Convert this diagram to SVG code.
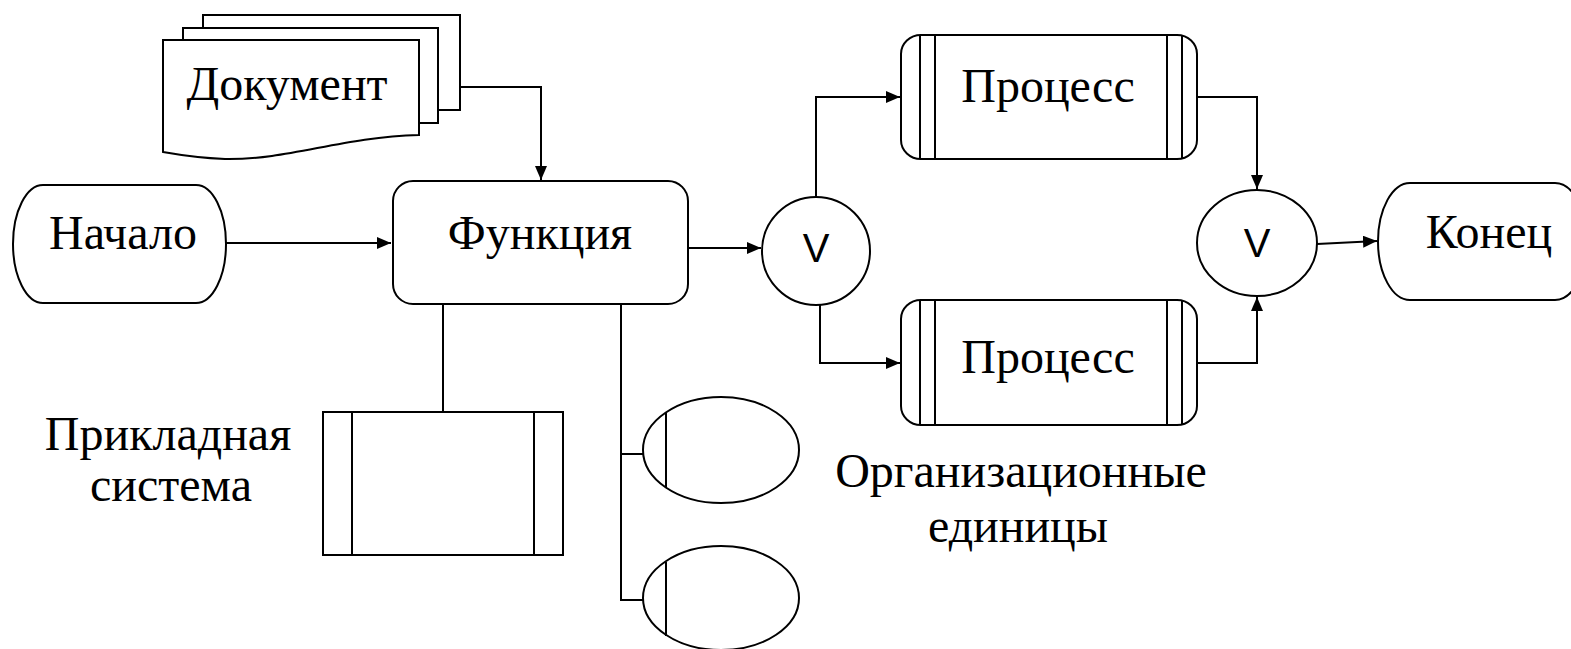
<svg xmlns="http://www.w3.org/2000/svg" width="1571" height="649" viewBox="0 0 1571 649">
<style>
.s{fill:#fff;stroke:#000;stroke-width:2}
.l{fill:none;stroke:#000;stroke-width:2}
</style>
<defs>
<marker id="a" markerUnits="userSpaceOnUse" markerWidth="14" markerHeight="12" refX="14" refY="6" orient="auto">
<path d="M0,0 L14,6 L0,12 Z" fill="#000"/>
</marker>
</defs>
<rect width="1571" height="649" fill="#fff"/>
<g id="connectors" class="l">
<path d="M226,243 H391" marker-end="url(#a)"/>
<path d="M460,87 H541 V180" marker-end="url(#a)"/>
<path d="M688,248 H761" marker-end="url(#a)"/>
<path d="M816,197 V97 H900" marker-end="url(#a)"/>
<path d="M820,305 V363 H900" marker-end="url(#a)"/>
<path d="M1197,97 H1257 V189" marker-end="url(#a)"/>
<path d="M1197,363 H1257 V297" marker-end="url(#a)"/>
<path d="M1317,244 L1377,241" marker-end="url(#a)"/>
<path d="M443,304 V412"/>
<path d="M621,304 V600 H643 M621,454 H643"/>
</g>
<g id="document">
<path class="s" d="M203,28 V15 H460 V110 H438"/>
<path class="s" d="M183,40 V28 H438 V123 H419"/>
<path class="s" d="M163,40 H419 V135 C340,137 290,160 225,159 C200,158 180,155 163,152 Z"/>
<text x="287" y="100" text-anchor="middle" style="font-family:'Liberation Serif';font-size:48px">Документ</text>
</g>
<g id="start">
<path class="s" d="M43,185 H196 A30,59 0 0 1 196,303 H43 A30,59 0 0 1 43,185 Z"/>
<text x="123" y="249" text-anchor="middle" style="font-family:'Liberation Serif';font-size:48px">Начало</text>
</g>
<g id="function">
<rect class="s" x="393" y="181" width="295" height="123" rx="20" ry="20"/>
<text x="540" y="249" text-anchor="middle" style="font-family:'Liberation Serif';font-size:48px">Функция</text>
</g>
<g id="xor1">
<circle class="s" cx="816" cy="251" r="54"/>
<text x="816" y="262" text-anchor="middle" style="font-family:'Liberation Sans';font-size:40px">V</text>
</g>
<g id="process1">
<rect class="s" x="901" y="35" width="296" height="124" rx="20" ry="19"/>
<path class="l" d="M920,35 V159 M935,35 V159 M1167,35 V159 M1182,35 V159"/>
<text x="1048" y="102" text-anchor="middle" style="font-family:'Liberation Serif';font-size:48px">Процесс</text>
</g>
<g id="process2">
<rect class="s" x="901" y="300" width="296" height="125" rx="20" ry="19"/>
<path class="l" d="M920,300 V425 M935,300 V425 M1167,300 V425 M1182,300 V425"/>
<text x="1048" y="373" text-anchor="middle" style="font-family:'Liberation Serif';font-size:48px">Процесс</text>
</g>
<g id="xor2">
<ellipse class="s" cx="1257" cy="243" rx="60" ry="53"/>
<text x="1257" y="257" text-anchor="middle" style="font-family:'Liberation Sans';font-size:40px">V</text>
</g>
<g id="end">
<path class="s" d="M1410,183 H1555 A32,58.5 0 0 1 1555,300 H1410 A32,58.5 0 0 1 1410,183 Z"/>
<text x="1489" y="248" text-anchor="middle" style="font-family:'Liberation Serif';font-size:48px">Конец</text>
</g>
<g id="appsystem">
<rect class="s" x="323" y="412" width="240" height="143"/>
<path class="l" d="M352,412 V555 M534,412 V555"/>
<text x="168" y="450" text-anchor="middle" style="font-family:'Liberation Serif';font-size:48px">Прикладная</text>
<text x="171" y="501" text-anchor="middle" style="font-family:'Liberation Serif';font-size:48px">система</text>
</g>
<g id="org1">
<ellipse class="s" cx="721" cy="450" rx="78" ry="53"/>
<path class="l" d="M666,413 V487"/>
</g>
<g id="org2">
<ellipse class="s" cx="721" cy="598" rx="78" ry="52"/>
<path class="l" d="M666,562 V636"/>
</g>
<g id="orglabel">
<text x="1021" y="487" text-anchor="middle" style="font-family:'Liberation Serif';font-size:48px">Организационные</text>
<text x="1018" y="542" text-anchor="middle" style="font-family:'Liberation Serif';font-size:48px">единицы</text>
</g>
</svg>
